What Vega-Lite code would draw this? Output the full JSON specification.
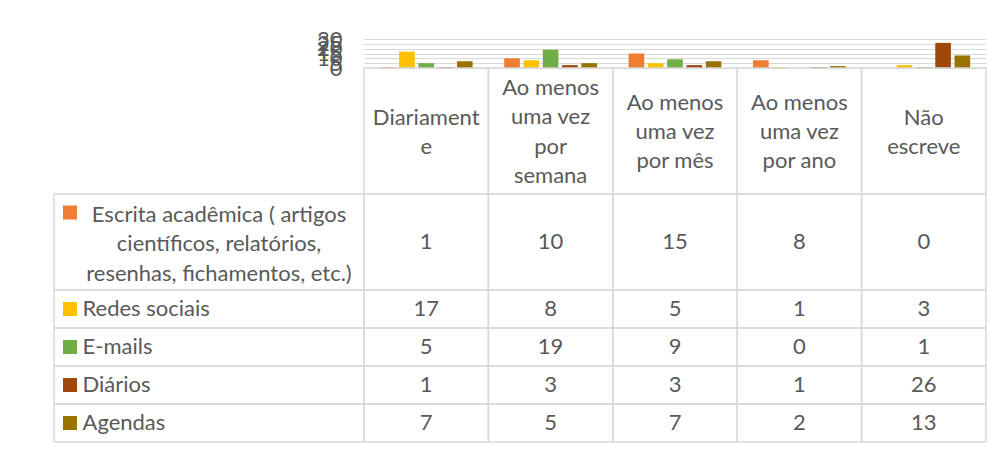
{
  "$schema": "https://vega.github.io/schema/vega-lite/v6.json",
  "background": "white",
  "padding": {"left": 53, "top": 28, "right": 0, "bottom": 0},
  "autosize": {"type": "pad"},
  "config": {
    "view": {"stroke": null},
    "font": "Lato",
    "text": {"font": "Lato", "fontSize": 22, "color": "#595959"}
  },
  "datasets": {
    "vals": [
      {"cat": "Diariamente", "serie": "Escrita", "v": 1},
      {"cat": "Semana", "serie": "Escrita", "v": 10},
      {"cat": "Mes", "serie": "Escrita", "v": 15},
      {"cat": "Ano", "serie": "Escrita", "v": 8},
      {"cat": "Nao", "serie": "Escrita", "v": 0},
      {"cat": "Diariamente", "serie": "Redes", "v": 17},
      {"cat": "Semana", "serie": "Redes", "v": 8},
      {"cat": "Mes", "serie": "Redes", "v": 5},
      {"cat": "Ano", "serie": "Redes", "v": 1},
      {"cat": "Nao", "serie": "Redes", "v": 3},
      {"cat": "Diariamente", "serie": "Emails", "v": 5},
      {"cat": "Semana", "serie": "Emails", "v": 19},
      {"cat": "Mes", "serie": "Emails", "v": 9},
      {"cat": "Ano", "serie": "Emails", "v": 0},
      {"cat": "Nao", "serie": "Emails", "v": 1},
      {"cat": "Diariamente", "serie": "Diarios", "v": 1},
      {"cat": "Semana", "serie": "Diarios", "v": 3},
      {"cat": "Mes", "serie": "Diarios", "v": 3},
      {"cat": "Ano", "serie": "Diarios", "v": 1},
      {"cat": "Nao", "serie": "Diarios", "v": 26},
      {"cat": "Diariamente", "serie": "Agendas", "v": 7},
      {"cat": "Semana", "serie": "Agendas", "v": 5},
      {"cat": "Mes", "serie": "Agendas", "v": 7},
      {"cat": "Ano", "serie": "Agendas", "v": 2},
      {"cat": "Nao", "serie": "Agendas", "v": 13}
    ],
    "cats": [
      {"cat": "Diariamente", "head": "Diariament\ne", "lines": 2},
      {"cat": "Semana", "head": "Ao menos\numa vez\npor\nsemana", "lines": 4},
      {"cat": "Mes", "head": "Ao menos\numa vez\npor mês", "lines": 3},
      {"cat": "Ano", "head": "Ao menos\numa vez\npor ano", "lines": 3},
      {"cat": "Nao", "head": "Não\nescreve", "lines": 2}
    ],
    "series": [
      {"serie": "Escrita", "label": "Escrita acadêmica ( artigos\ncientíficos, relatórios,\nresenhas, fichamentos, etc.)"},
      {"serie": "Redes", "label": "Redes sociais"},
      {"serie": "Emails", "label": "E-mails"},
      {"serie": "Diarios", "label": "Diários"},
      {"serie": "Agendas", "label": "Agendas"}
    ]
  },
  "columns": 2,
  "spacing": 0,
  "bounds": "flush",
  "concat": [
    {
      "width": 310, "height": 29,
      "data": {"values": [{}]},
      "mark": {"type": "text", "text": ""}
    },
    {
      "width": 622, "height": 29,
      "data": {"name": "vals"},
      "mark": {"type": "bar"},
      "encoding": {
        "x": {"field": "cat", "type": "nominal", "sort": ["Diariamente", "Semana", "Mes", "Ano", "Nao"], "scale": {"paddingInner": 0, "paddingOuter": 0}, "axis": null},
        "xOffset": {"field": "serie", "type": "nominal", "sort": ["Escrita", "Redes", "Emails", "Diarios", "Agendas"], "scale": {"paddingInner": 0.19, "paddingOuter": 0.82}},
        "y": {"field": "v", "type": "quantitative", "scale": {"domain": [0, 30], "nice": false},
          "axis": {"values": [0, 5, 10, 15, 20, 25, 30], "labelOverlap": false, "domain": false, "ticks": false, "labelPadding": 22, "labelFont": "Lato", "labelFontSize": 22, "labelColor": "#595959", "gridColor": "#d9d9d9", "gridWidth": 1.2, "title": null}},
        "color": {"field": "serie", "type": "nominal", "scale": {"domain": ["Escrita", "Redes", "Emails", "Diarios", "Agendas"], "range": ["#ED7D31", "#FFC000", "#70AD47", "#9E480E", "#997300"]}, "legend": null}
      }
    },
    {
      "width": 310, "height": 126,
      "data": {"values": [{}]},
      "mark": {"type": "text", "text": ""}
    },
    {
      "width": 622, "height": 126,
      "data": {"name": "cats"},
      "encoding": {
        "x": {"field": "cat", "type": "nominal", "sort": ["Diariamente", "Semana", "Mes", "Ano", "Nao"], "scale": {"paddingInner": 0, "paddingOuter": 0}, "axis": null}
      },
      "layer": [
        {"mark": {"type": "rect", "fillOpacity": 0, "stroke": "#d9d9d9", "strokeWidth": 1.5}},
        {"transform": [{"filter": "datum.lines == 2"}], "mark": {"type": "text", "lineBreak": "\n", "lineHeight": 29.3, "baseline": "middle", "dy": -13}, "encoding": {"text": {"field": "head"}}},
        {"transform": [{"filter": "datum.lines == 3"}], "mark": {"type": "text", "lineBreak": "\n", "lineHeight": 29.3, "baseline": "middle", "dy": -28.5}, "encoding": {"text": {"field": "head"}}},
        {"transform": [{"filter": "datum.lines == 4"}], "mark": {"type": "text", "lineBreak": "\n", "lineHeight": 29.3, "baseline": "middle", "dy": -43}, "encoding": {"text": {"field": "head"}}}
      ]
    },
    {
      "width": 310, "height": 96,
      "data": {"name": "series"},
      "transform": [{"filter": "datum.serie == 'Escrita'"}],
      "layer": [
        {"mark": {"type": "rect", "fillOpacity": 0, "stroke": "#d9d9d9", "strokeWidth": 1.5}},
        {"mark": {"type": "point", "shape": "square", "size": 196, "filled": true, "opacity": 1, "xOffset": -139, "yOffset": -29.5},
          "encoding": {"color": {"field": "serie", "type": "nominal", "scale": {"domain": ["Escrita", "Redes", "Emails", "Diarios", "Agendas"], "range": ["#ED7D31", "#FFC000", "#70AD47", "#9E480E", "#997300"]}, "legend": null}}},
        {"mark": {"type": "text", "lineBreak": "\n", "lineHeight": 29.5, "baseline": "middle", "align": "center", "dx": 10, "dy": -27.5}, "encoding": {"text": {"field": "label"}}}
      ]
    },
    {
      "width": 622, "height": 96,
      "data": {"name": "vals"},
      "transform": [{"filter": "datum.serie == 'Escrita'"}],
      "encoding": {
        "x": {"field": "cat", "type": "nominal", "sort": ["Diariamente", "Semana", "Mes", "Ano", "Nao"], "scale": {"paddingInner": 0, "paddingOuter": 0}, "axis": null}
      },
      "layer": [
        {"mark": {"type": "rect", "fillOpacity": 0, "stroke": "#d9d9d9", "strokeWidth": 1.5}},
        {"mark": {"type": "text", "baseline": "middle"}, "encoding": {"text": {"field": "v"}}}
      ]
    },
    {
      "width": 310, "height": 152,
      "data": {"name": "series"},
      "transform": [{"filter": "datum.serie != 'Escrita'"}],
      "encoding": {
        "y": {"field": "serie", "type": "nominal", "sort": ["Redes", "Emails", "Diarios", "Agendas"], "scale": {"paddingInner": 0, "paddingOuter": 0}, "axis": null}
      },
      "layer": [
        {"mark": {"type": "rect", "fillOpacity": 0, "stroke": "#d9d9d9", "strokeWidth": 1.5}},
        {"mark": {"type": "point", "shape": "square", "size": 196, "filled": true, "opacity": 1, "xOffset": -139},
          "encoding": {"color": {"field": "serie", "type": "nominal", "scale": {"domain": ["Escrita", "Redes", "Emails", "Diarios", "Agendas"], "range": ["#ED7D31", "#FFC000", "#70AD47", "#9E480E", "#997300"]}, "legend": null}}},
        {"mark": {"type": "text", "baseline": "middle", "align": "left", "dx": -126.5}, "encoding": {"text": {"field": "label"}}}
      ]
    },
    {
      "width": 622, "height": 152,
      "data": {"name": "vals"},
      "transform": [{"filter": "datum.serie != 'Escrita'"}],
      "encoding": {
        "x": {"field": "cat", "type": "nominal", "sort": ["Diariamente", "Semana", "Mes", "Ano", "Nao"], "scale": {"paddingInner": 0, "paddingOuter": 0}, "axis": null},
        "y": {"field": "serie", "type": "nominal", "sort": ["Redes", "Emails", "Diarios", "Agendas"], "scale": {"paddingInner": 0, "paddingOuter": 0}, "axis": null}
      },
      "layer": [
        {"mark": {"type": "rect", "fillOpacity": 0, "stroke": "#d9d9d9", "strokeWidth": 1.5}},
        {"mark": {"type": "text", "baseline": "middle"}, "encoding": {"text": {"field": "v"}}}
      ]
    }
  ]
}
